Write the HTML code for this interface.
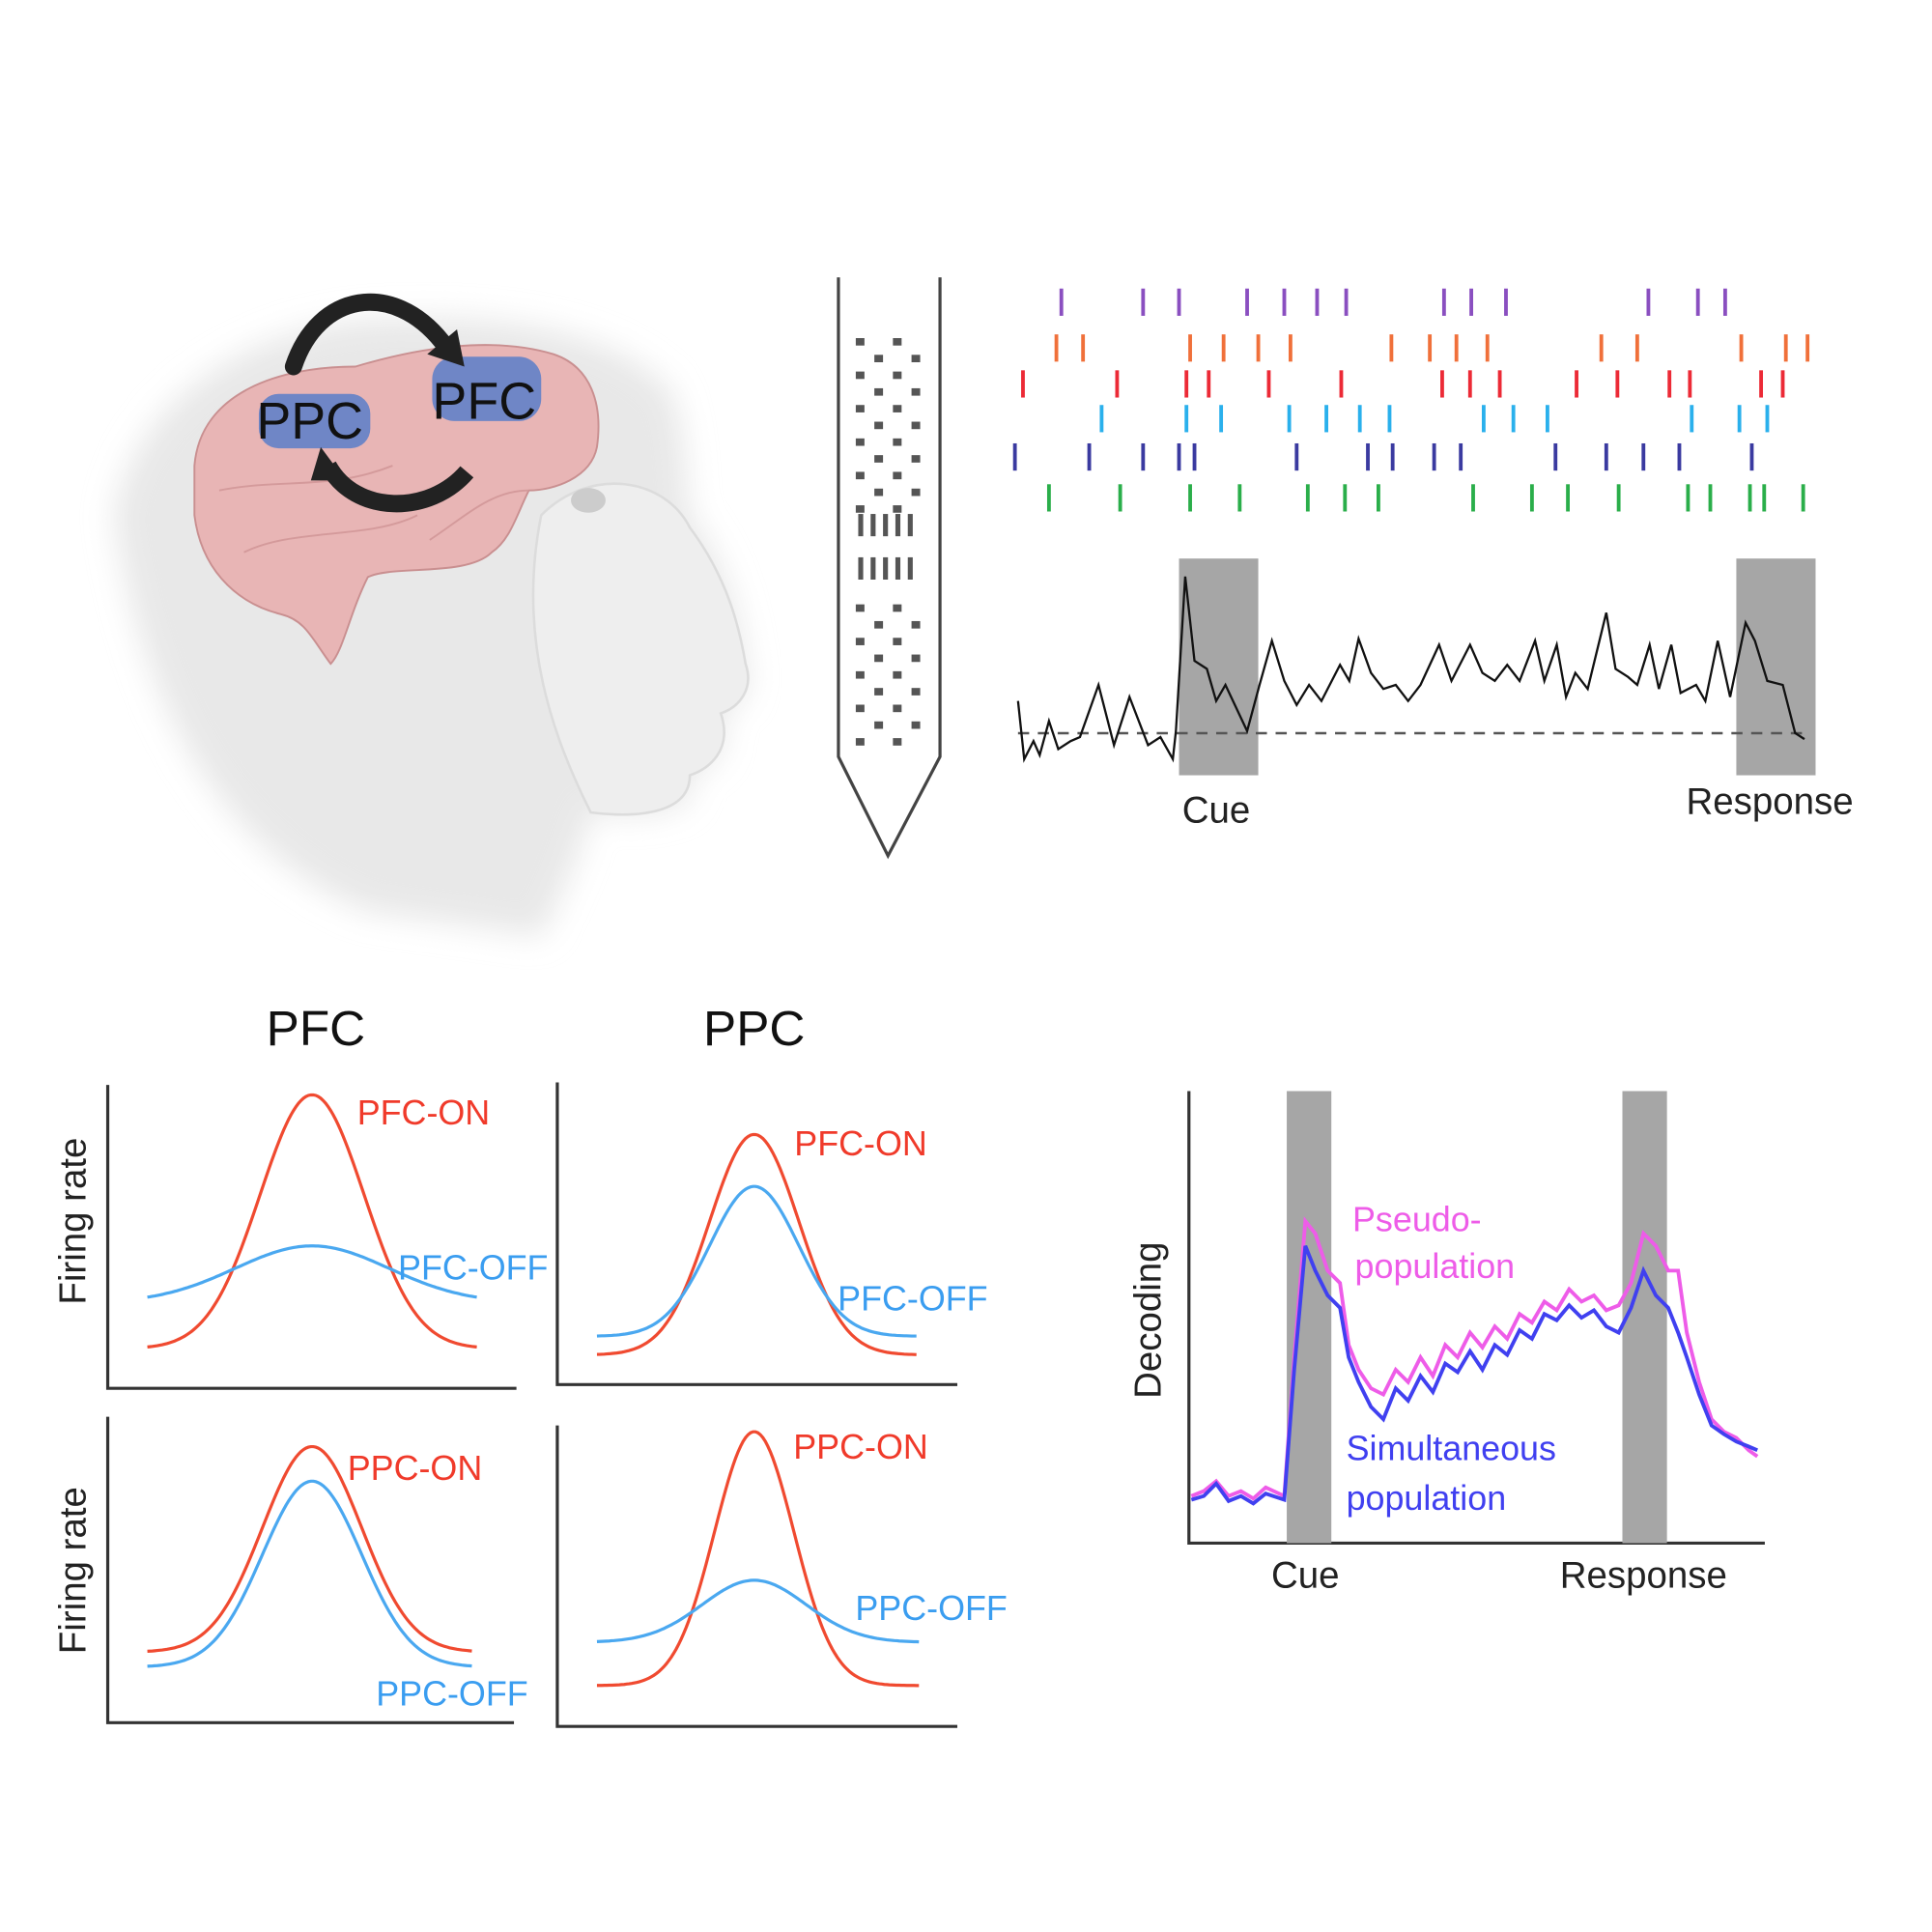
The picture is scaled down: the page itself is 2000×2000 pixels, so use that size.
<!DOCTYPE html>
<html><head><meta charset="utf-8"><style>html,body{margin:0;padding:0;background:#fff}svg{display:block}text{font-family:"Liberation Sans",sans-serif}</style></head>
<body>
<svg id="s" width="2000" height="2000" viewBox="0 0 1560 1560" xmlns="http://www.w3.org/2000/svg">
<defs>
<filter id="bl" x="-20%" y="-20%" width="140%" height="140%"><feGaussianBlur stdDeviation="12"/></filter>
</defs>
<g transform="translate(-3,-4)">
<!-- head -->
<path d="M95,420 C110,330 200,270 300,262 C400,255 500,270 545,320 C560,360 555,400 560,420 C590,460 600,500 605,540 C612,560 600,575 585,580 C595,610 575,625 560,630 C570,660 530,665 480,660 C470,700 450,740 440,760 L300,740 C200,700 120,600 95,420 Z" fill="#e8e8e8" filter="url(#bl)"/>
<path d="M440,420 C480,380 540,390 560,430 C590,470 600,510 605,540 C612,560 600,575 585,580 C595,610 575,625 560,630 C560,660 520,665 480,660 C450,600 420,520 440,420 Z" fill="#eeeeee" stroke="#dcdcdc" stroke-width="2"/>
<ellipse cx="478" cy="408" rx="14" ry="10" fill="#cccccc"/>
<!-- brain -->
<path d="M160,380 C165,320 230,300 290,300 C340,285 400,275 450,290 C480,300 490,330 485,365 C480,390 450,400 430,400 C420,420 415,440 400,450 C380,470 320,460 300,470 C285,500 280,530 270,540 C255,520 250,505 230,500 C190,490 165,460 160,420 Z" fill="#e8b5b5" stroke="#c98f90" stroke-width="1.5"/>
<path d="M200,450 C240,430 300,440 340,420 M180,400 C230,390 270,400 320,380 M350,440 C380,420 400,400 430,400" stroke="#d49a9b" stroke-width="1.5" fill="none"/>
<rect x="212" y="322" width="90" height="44" rx="16" fill="#6f86c6"/>
<rect x="352" y="292" width="88" height="52" rx="18" fill="#6f86c6"/>
<path d="M240,300 C260,240 320,230 360,280" stroke="#222" stroke-width="14" fill="none" stroke-linecap="round"/>
<polygon points="348,290 378,300 372,270" fill="#222"/>
<path d="M380,385 C350,420 290,420 268,380" stroke="#222" stroke-width="14" fill="none"/>
<polygon points="254,392 282,392 262,365" fill="#222"/>
<text x="210" y="358" font-size="42" fill="#111">PPC</text>
<text x="352" y="342" font-size="42" fill="#111">PFC</text>
<!-- probe -->
<path d="M680,228 L680,615 L720,695 L762,615 L762,228" fill="none" stroke="#444" stroke-width="2.5"/>
<g id="dots" fill="#555"></g>
<g id="raster" stroke-width="3"></g>
<rect x="955" y="455" width="64" height="175" fill="#a6a6a6"/>
<rect x="1405" y="455" width="64" height="175" fill="#a6a6a6"/>
<line x1="825" y1="596" x2="1465" y2="596" stroke="#555" stroke-width="2" stroke-dasharray="9,7"/>
<g transform="matrix(0.5 0 0 0.324 780 197.4)"><path fill="none" stroke="#111" stroke-width="2.3" vector-effect="non-scaling-stroke" d="M90,1150 L100,1295 115,1250 125,1285 140,1200 155,1270 175,1250 190,1240 220,1110 245,1260 270,1140 300,1260 320,1240 340,1295 345,1225 360,840 375,1050 395,1070 410,1150 425,1110 460,1225 480,1110 500,1000 520,1100 540,1160 560,1110 580,1150 610,1060 625,1100 640,995 660,1080 680,1120 700,1110 720,1150 740,1110 770,1010 790,1100 820,1010 840,1080 860,1100 880,1060 900,1100 925,1000 940,1100 960,1010 975,1140 990,1080 1010,1120 1040,930 1055,1070 1075,1090 1090,1110 1110,1010 1125,1120 1145,1010 1160,1130 1185,1110 1200,1150 1220,1000 1240,1140 1265,955 1280,1000 1300,1100 1325,1110 1345,1230 1360,1245"/></g>
<text x="985" y="668" font-size="30" fill="#222" text-anchor="middle">Cue</text>
<text x="1432" y="661" font-size="30" fill="#222" text-anchor="middle">Response</text>
<text x="258" y="848" font-size="40" fill="#111" text-anchor="middle">PFC</text>
<text x="612" y="848" font-size="40" fill="#111" text-anchor="middle">PPC</text>
<g stroke="#333" stroke-width="2.5" fill="none">
<path d="M90,880 V1125 H420"/><path d="M453,878 V1122 H776"/>
<path d="M90,1148 V1395 H418"/><path d="M453,1155 V1398 H776"/>
<path d="M963,885 V1250 H1428"/>
</g>
<g id="curves" fill="none" stroke-width="2.5"></g>
<g font-size="28">
<text x="345" y="912" fill="#f03a2a" text-anchor="middle">PFC-ON</text>
<text x="385" y="1037" fill="#3a9df0" text-anchor="middle">PFC-OFF</text>
<text x="698" y="937" fill="#f03a2a" text-anchor="middle">PFC-ON</text>
<text x="740" y="1062" fill="#3a9df0" text-anchor="middle">PFC-OFF</text>
<text x="338" y="1199" fill="#f03a2a" text-anchor="middle">PPC-ON</text>
<text x="368" y="1381" fill="#3a9df0" text-anchor="middle">PPC-OFF</text>
<text x="698" y="1182" fill="#f03a2a" text-anchor="middle">PPC-ON</text>
<text x="755" y="1312" fill="#3a9df0" text-anchor="middle">PPC-OFF</text>
</g>
<text transform="translate(72,990) rotate(-90)" font-size="30" fill="#222" text-anchor="middle">Firing rate</text>
<text transform="translate(72,1272) rotate(-90)" font-size="30" fill="#222" text-anchor="middle">Firing rate</text>
<rect x="1042" y="885" width="36" height="365" fill="#a6a6a6"/>
<rect x="1313" y="885" width="36" height="365" fill="#a6a6a6"/>
<path fill="none" stroke="#ee5ce8" stroke-width="3" d="M965,1212 L975,1208 985,1200 995,1212 1005,1208 1015,1214 1025,1205 1040,1212 1048,1100 1057,990 1065,1000 1075,1030 1085,1040 1092,1090 1100,1110 1110,1125 1120,1130 1130,1110 1140,1120 1150,1100 1160,1115 1170,1090 1180,1100 1190,1080 1200,1092 1210,1075 1220,1085 1230,1065 1240,1072 1250,1055 1260,1062 1270,1045 1280,1055 1290,1050 1300,1062 1310,1058 1320,1040 1330,1000 1340,1010 1350,1030 1358,1030 1365,1080 1375,1120 1385,1150 1395,1160 1405,1165 1415,1175 1422,1180"/>
<path fill="none" stroke="#4040f0" stroke-width="3" d="M965,1215 L975,1212 985,1202 995,1216 1005,1212 1015,1218 1025,1210 1040,1215 1048,1110 1057,1010 1065,1030 1075,1050 1085,1060 1092,1100 1100,1120 1110,1140 1120,1150 1130,1125 1140,1135 1150,1115 1160,1128 1170,1105 1180,1112 1190,1095 1200,1110 1210,1090 1220,1098 1230,1078 1240,1085 1250,1065 1260,1070 1270,1058 1280,1068 1290,1062 1300,1075 1310,1080 1320,1060 1330,1030 1340,1050 1350,1060 1358,1080 1365,1100 1375,1130 1385,1155 1395,1162 1405,1168 1415,1172 1422,1175"/>
<text transform="translate(940,1070) rotate(-90)" font-size="30" fill="#222" text-anchor="middle">Decoding</text>
<text x="1057" y="1286" font-size="30" fill="#222" text-anchor="middle">Cue</text>
<text x="1330" y="1286" font-size="30" fill="#222" text-anchor="middle">Response</text>
<g font-size="28">
<text x="1095" y="998" fill="#ee5ce8">Pseudo-</text>
<text x="1097" y="1036" fill="#ee5ce8">population</text>
<text x="1090" y="1183" fill="#4040f0">Simultaneous</text>
<text x="1090" y="1223" fill="#4040f0">population</text>
</g>
</g>
</svg>
<script>
var NS="http://www.w3.org/2000/svg";
function el(p,t,a){var e=document.createElementNS(NS,t);for(var k in a)e.setAttribute(k,a[k]);p.appendChild(e);return e;}
var d=document.getElementById('dots');
function dotgrid(y0,rows){for(var r=0;r<rows;r++){var y=y0+r*13.5;var xs=(r%2==0)?[697,727]:[712,742];xs.forEach(function(x){el(d,'rect',{x:x-3,y:y-3,width:7,height:6});});}}
dotgrid(280,11);dotgrid(495,9);
for(var r=0;r<2;r++){var y=[428,463][r];for(var c=0;c<5;c++){el(d,'rect',{x:696+c*10,y:y-9,width:4,height:18});}}
var rows=[["#8a4fc0",248,[160,292,350,460,520,573,620,778,822,878,1108,1188,1232]],
["#f0703a",285,[152,195,368,422,478,530,693,755,798,848,1032,1090,1258,1330,1365]],
["#ec2a36",314,[98,250,362,398,495,612,775,820,868,992,1058,1142,1175,1290,1325]],
["#2ab0ec",342,[225,362,418,528,588,642,690,842,890,945,1178,1255,1300]],
["#3a3aa0",373,[85,205,292,350,375,540,655,695,762,805,958,1040,1100,1158,1275]],
["#2aae4a",406,[140,255,368,448,558,618,672,825,920,978,1060,1172,1208,1272,1295,1358]]];
var g=document.getElementById('raster');
rows.forEach(function(r){r[2].forEach(function(zx){var x=780+zx/2;el(g,'line',{x1:x,x2:x,y1:r[1]-11,y2:r[1]+11,stroke:r[0]});});});
var cg=document.getElementById('curves');
function gauss(x0,x1,c,sig,peak,base,col){var s="";for(var x=x0;x<=x1;x+=2){var y=base+(peak-base)*Math.exp(-Math.pow(x-c,2)/(2*sig*sig));s+=(s?" L":"M")+x+","+y.toFixed(1);}el(cg,'path',{d:s,stroke:col});}
var R="#f04a30",B="#4aa8f0";
gauss(122,388,255,42,888,1093,R);gauss(122,388,255,62,1010,1056,B);
gauss(485,743,612,36,920,1098,R);gauss(485,743,612,36,962,1083,B);
gauss(122,385,255,40,1172,1338,R);gauss(122,385,255,40,1200,1350,B);
gauss(485,745,612,32,1160,1365,R);gauss(485,745,612,42,1280,1330,B);
</script>
</body></html>
